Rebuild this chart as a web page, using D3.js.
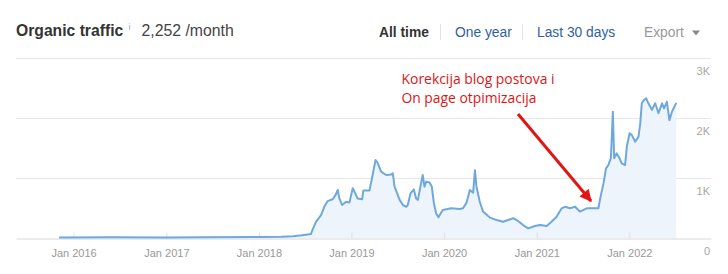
<!DOCTYPE html>
<html><head><meta charset="utf-8">
<script src="https://cdn.jsdelivr.net/npm/d3@7"></script>
<style>
html,body{margin:0;padding:0;background:#fff;}
svg{display:block;font-family:"Liberation Sans",Arial,sans-serif;}
</style></head>
<body><svg id="chart" width="728" height="274"></svg>
<script>
// ---- data ----
const dates = [
"2015-11-05","2016-06-01","2017-01-01","2017-06-01","2018-01-01","2018-04-01","2018-05-15","2018-06-20","2018-07-25","2018-07-31",
"2018-08-14","2018-09-03","2018-09-16","2018-09-29","2018-10-19","2018-10-30","2018-11-08","2018-11-14","2018-11-25","2018-12-11",
"2018-12-24","2019-01-06","2019-01-16","2019-01-25","2019-02-12","2019-02-17","2019-03-13","2019-03-24","2019-04-06","2019-04-15",
"2019-04-28","2019-05-18","2019-06-07","2019-06-13","2019-06-20","2019-07-10","2019-07-23","2019-08-05","2019-08-11","2019-08-22",
"2019-09-04","2019-09-13","2019-09-20","2019-09-30","2019-10-09","2019-10-16","2019-10-23","2019-11-05","2019-11-14","2019-11-22",
"2019-12-01","2019-12-10","2019-12-27","2020-01-30","2020-03-03","2020-03-16","2020-03-30","2020-04-12","2020-04-25","2020-05-02",
"2020-05-08","2020-05-21","2020-06-03","2020-06-23","2020-06-30","2020-07-19","2020-07-26","2020-08-21","2020-09-10","2020-09-30",
"2020-10-19","2020-11-08","2020-11-28","2020-12-25","2021-01-14","2021-02-09","2021-02-28","2021-03-20","2021-04-09","2021-04-22",
"2021-05-12","2021-06-01","2021-06-20","2021-07-17","2021-08-12","2021-09-01","2021-09-08","2021-09-21","2021-10-01","2021-10-10",
"2021-10-20","2021-10-28","2021-11-02","2021-11-12","2021-11-23","2021-12-02","2021-12-15","2021-12-22","2022-01-02","2022-01-11",
"2022-01-24","2022-02-06","2022-02-13","2022-02-19","2022-02-28","2022-03-08","2022-03-17","2022-03-31","2022-04-13","2022-04-26",
"2022-05-10","2022-05-18","2022-05-29","2022-06-08","2022-06-18","2022-07-05"
];
const traffic = [
10,12,10,12,15,20,30,45,65,130,
270,380,520,615,645,715,800,665,550,605,
590,830,745,660,645,790,790,1020,1300,1245,
1105,1050,1060,1080,855,635,550,520,550,745,
810,660,635,855,1050,855,940,925,855,580,
410,345,465,495,485,495,590,800,755,1130,
855,605,440,365,340,310,300,270,300,330,
285,215,160,200,215,200,270,355,495,520,
495,520,440,495,495,495,660,910,1160,1215,
1330,2105,1330,1410,1330,1245,1215,1520,1745,1715,
1605,1690,1910,2245,2300,2330,2245,2135,2245,2080,
2245,2160,2270,1965,2105,2252
];
const yTicks = [1000, 2000, 3000];
const yTickLabels = ["1K", "2K", "3K"];
const xTickYears = [2016, 2017, 2018, 2019, 2020, 2021, 2022];
const periods = ["All time", "One year", "Last 30 days"];
const annotationLines = ["Korekcija blog postova i", "On page otpimizacija"];

// ---- layout ----
const svg = d3.select("#chart");
const parse = d3.timeParse("%Y-%m-%d");
const data = dates.map((d, i) => ({date: parse(d), value: traffic[i]}));

const pL = 16, pR = 711, pT = 58, pB = 238;
const x = d3.scaleTime()
  .domain([parse("2015-05-19"), parse("2022-11-19")])
  .range([pL, pR]);
const y = d3.scaleLinear().domain([0, 3000]).range([pB, pT]);

// header
const hdr = svg.append("g");
hdr.append("text").attr("x", 16).attr("y", 36)
  .attr("font-size", 15.7).attr("font-weight", "bold").attr("fill", "#333")
  .text("Organic traffic");
hdr.append("text").attr("x", 128.5).attr("y", 30)
  .attr("font-size", 9).attr("fill", "#aaa").text("i");
hdr.append("text").attr("x", 141.5).attr("y", 36)
  .attr("font-size", 15.8).attr("fill", "#444").text("2,252 /month");

const pX = [379, 455, 537];
periods.forEach((p, i) => {
  hdr.append("text").attr("x", pX[i]).attr("y", 37)
    .attr("font-size", 13.8)
    .attr("font-weight", i === 0 ? "bold" : "normal")
    .attr("fill", i === 0 ? "#333" : "#2f5fa3")
    .text(p);
});
[440.5, 522.5].forEach(sx => {
  hdr.append("line").attr("x1", sx).attr("x2", sx).attr("y1", 24).attr("y2", 40)
    .attr("stroke", "#e3e3e3").attr("stroke-width", 1);
});
hdr.append("text").attr("x", 644).attr("y", 37).attr("font-size", 13.8)
  .attr("fill", "#999").text("Export");
hdr.append("path").attr("d", "M692,30.5 L700,30.5 L696,35.5 Z").attr("fill", "#888");

// gridlines
svg.append("g").selectAll("line").data(yTicks).join("line")
  .attr("x1", pL).attr("x2", pR)
  .attr("y1", d => Math.round(y(d)) + 0.5).attr("y2", d => Math.round(y(d)) + 0.5)
  .attr("stroke", "#e6e6e6").attr("stroke-width", 1);

// area + line
const area = d3.area().x(d => x(d.date)).y0(y(0)).y1(d => y(d.value));
const line = d3.line().x(d => x(d.date)).y(d => y(d.value));
svg.append("path").datum(data).attr("d", area).attr("fill", "#eef4fb");

// x axis
const xAxis = d3.axisBottom(x)
  .tickValues(xTickYears.map(yr => new Date(yr, 0, 1)))
  .tickFormat(d3.timeFormat("Jan %Y"))
  .tickSizeInner(-6).tickSizeOuter(0).tickPadding(11);
const gx = svg.append("g").attr("transform", `translate(0,${pB + 0.5})`).call(xAxis);
gx.select(".domain").attr("stroke", "#d6d6d6");
gx.selectAll(".tick line").attr("stroke", "#e0e0e0");
gx.selectAll(".tick text").attr("font-size", 11).attr("fill", "#999")
  .attr("font-family", "Liberation Sans, Arial, sans-serif");

svg.append("path").datum(data).attr("d", line)
  .attr("fill", "none").attr("stroke", "#6ea8dc").attr("stroke-width", 2)
  .attr("stroke-linejoin", "round");

// y labels
svg.append("g").selectAll("text").data(yTicks).join("text")
  .attr("x", 710).attr("y", d => y(d) + 17)
  .attr("text-anchor", "end").attr("font-size", 11).attr("fill", "#a6a6a6")
  .text((d, i) => yTickLabels[i]);
svg.append("text").attr("x", 710).attr("y", 255).attr("text-anchor", "end")
  .attr("font-size", 11).attr("fill", "#a6a6a6").text("0");

// annotation
const red = "#e01515";
const ann = svg.append("g");
const annW = [153, 135];
annotationLines.forEach((t, i) => {
  ann.append("text").attr("x", 401.5).attr("y", 84 + i * 19.3)
    .attr("font-family", "Open Sans, sans-serif").attr("font-size", 14.5)
    .attr("fill", red).attr("textLength", annW[i]).attr("lengthAdjust", "spacingAndGlyphs")
    .text(t);
});
const defs = svg.append("defs");
defs.append("marker").attr("id", "ah").attr("viewBox", "0 0 10 10")
  .attr("refX", 9).attr("refY", 5).attr("markerWidth", 4.2).attr("markerHeight", 4)
  .attr("markerUnits", "strokeWidth").attr("orient", "auto")
  .append("path").attr("d", "M0,0 L10,5 L0,10 Z").attr("fill", red);
ann.append("line").attr("x1", 518).attr("y1", 114).attr("x2", 591).attr("y2", 201)
  .attr("stroke", red).attr("stroke-width", 3).attr("marker-end", "url(#ah)");
</script>
</body></html>
